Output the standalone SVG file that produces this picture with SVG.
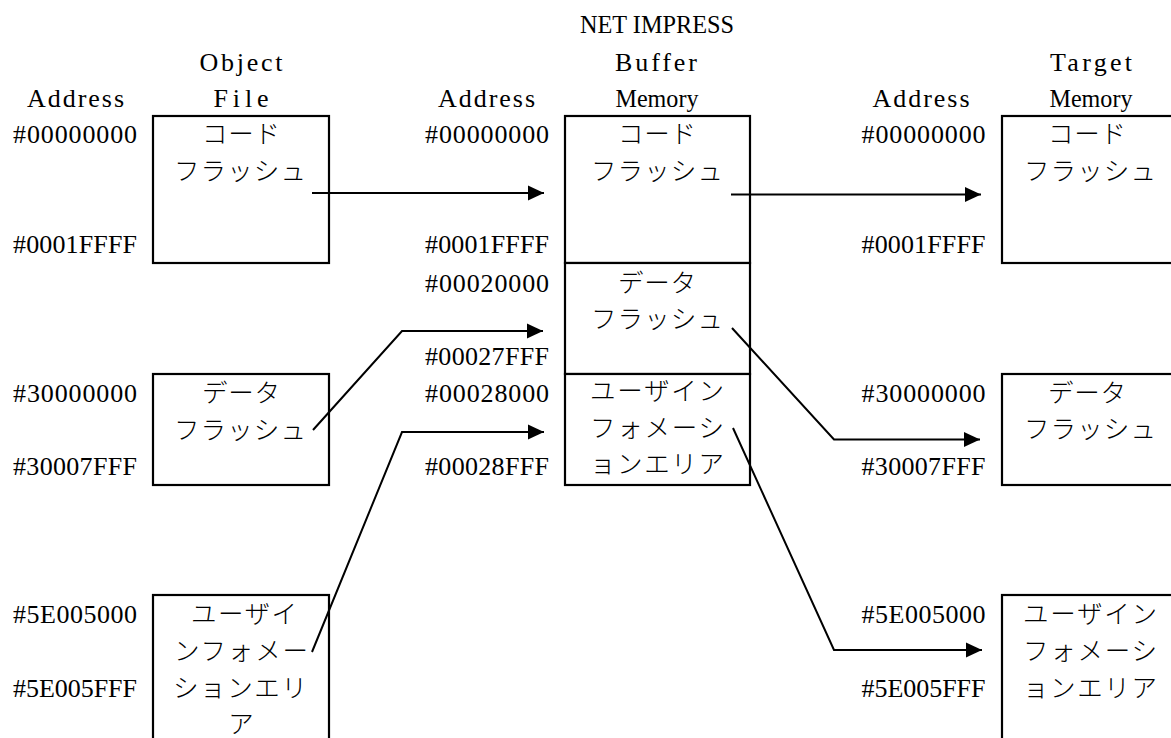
<svg xmlns="http://www.w3.org/2000/svg" width="1171" height="738" viewBox="0 0 1171 738">
  <style>
    .box { fill: #fff; stroke: #000; stroke-width: 2.2; }
    .lat { font-family: "Liberation Serif", "Times New Roman", serif; font-size: 26px; fill: #000; text-anchor: middle; }
    .jp { font-family: "Noto Sans CJK JP", "Noto Sans CJK SC", sans-serif; font-size: 25.5px; font-weight: 300; fill: #000; text-anchor: middle; }
    .wire { fill: none; stroke: #000; stroke-width: 2; stroke-linejoin: miter; }
  </style>
  <defs>
    <marker id="arrow" markerUnits="userSpaceOnUse" markerWidth="18" markerHeight="16" refX="17" refY="8" orient="auto">
      <path d="M1,0.5 L17,8 L1,15.5 Z" fill="#000"/>
    </marker>
  </defs>
  <rect width="1171" height="738" fill="#fff"/>

  <!-- column headings -->
  <g id="headings">
    <text class="lat" x="241" y="71" textLength="83" lengthAdjust="spacing">Object</text>
    <text class="lat" x="241" y="107" textLength="55" lengthAdjust="spacing">File</text>
    <text class="lat" x="75.5" y="107" textLength="97" lengthAdjust="spacing">Address</text>
    <text class="lat" x="657" y="33" textLength="154" lengthAdjust="spacingAndGlyphs">NET IMPRESS</text>
    <text class="lat" x="656" y="71" textLength="82" lengthAdjust="spacing">Buffer</text>
    <text class="lat" x="657" y="107" textLength="83" lengthAdjust="spacingAndGlyphs">Memory</text>
    <text class="lat" x="486.5" y="107" textLength="97" lengthAdjust="spacing">Address</text>
    <text class="lat" x="1091" y="71" textLength="82" lengthAdjust="spacing">Target</text>
    <text class="lat" x="1091" y="107" textLength="83" lengthAdjust="spacingAndGlyphs">Memory</text>
    <text class="lat" x="921" y="107" textLength="97" lengthAdjust="spacing">Address</text>
  </g>

  <!-- address labels -->
  <g id="addresses">
    <text class="lat" x="75" y="143" textLength="124" lengthAdjust="spacing">#00000000</text>
    <text class="lat" x="75" y="253" textLength="124" lengthAdjust="spacing">#0001FFFF</text>
    <text class="lat" x="75" y="402" textLength="124" lengthAdjust="spacing">#30000000</text>
    <text class="lat" x="75" y="475" textLength="124" lengthAdjust="spacing">#30007FFF</text>
    <text class="lat" x="75" y="623" textLength="124" lengthAdjust="spacing">#5E005000</text>
    <text class="lat" x="75" y="697" textLength="124" lengthAdjust="spacing">#5E005FFF</text>

    <text class="lat" x="487" y="143" textLength="124" lengthAdjust="spacing">#00000000</text>
    <text class="lat" x="487" y="253" textLength="124" lengthAdjust="spacing">#0001FFFF</text>
    <text class="lat" x="487" y="292" textLength="124" lengthAdjust="spacing">#00020000</text>
    <text class="lat" x="487" y="365" textLength="124" lengthAdjust="spacing">#00027FFF</text>
    <text class="lat" x="487" y="402" textLength="124" lengthAdjust="spacing">#00028000</text>
    <text class="lat" x="487" y="475" textLength="124" lengthAdjust="spacing">#00028FFF</text>

    <text class="lat" x="923.5" y="143" textLength="124" lengthAdjust="spacing">#00000000</text>
    <text class="lat" x="923.5" y="253" textLength="124" lengthAdjust="spacing">#0001FFFF</text>
    <text class="lat" x="923.5" y="402" textLength="124" lengthAdjust="spacing">#30000000</text>
    <text class="lat" x="923.5" y="475" textLength="124" lengthAdjust="spacing">#30007FFF</text>
    <text class="lat" x="923.5" y="623" textLength="124" lengthAdjust="spacing">#5E005000</text>
    <text class="lat" x="923.5" y="697" textLength="124" lengthAdjust="spacing">#5E005FFF</text>
  </g>

  <!-- object file blocks -->
  <g id="obj-code">
    <rect class="box" x="153" y="116" width="176" height="147"/>
    <text class="jp" x="241" y="143" textLength="78" lengthAdjust="spacing">コード</text>
    <text class="jp" x="240" y="180" textLength="132" lengthAdjust="spacing">フラッシュ</text>
  </g>
  <g id="obj-data">
    <rect class="box" x="153" y="374" width="176" height="111"/>
    <text class="jp" x="241" y="402" textLength="78" lengthAdjust="spacing">データ</text>
    <text class="jp" x="240" y="439" textLength="132" lengthAdjust="spacing">フラッシュ</text>
  </g>
  <g id="obj-user">
    <rect class="box" x="153" y="595" width="176" height="170"/>
    <text class="jp" x="244" y="623" textLength="106" lengthAdjust="spacing">ユーザイ</text>
    <text class="jp" x="241" y="660" textLength="134" lengthAdjust="spacing">ンフォメー</text>
    <text class="jp" x="240" y="697" textLength="134" lengthAdjust="spacing">ションエリ</text>
    <text class="jp" x="241" y="733">ア</text>
  </g>

  <!-- buffer memory blocks -->
  <g id="buf-code">
    <rect class="box" x="565" y="116" width="185" height="147"/>
    <text class="jp" x="657" y="143" textLength="78" lengthAdjust="spacing">コード</text>
    <text class="jp" x="657" y="180" textLength="132" lengthAdjust="spacing">フラッシュ</text>
  </g>
  <g id="buf-data">
    <rect class="box" x="565" y="263" width="185" height="111"/>
    <text class="jp" x="657" y="292" textLength="78" lengthAdjust="spacing">データ</text>
    <text class="jp" x="657" y="328" textLength="132" lengthAdjust="spacing">フラッシュ</text>
  </g>
  <g id="buf-user">
    <rect class="box" x="565" y="374" width="185" height="111"/>
    <text class="jp" x="657" y="400" textLength="134" lengthAdjust="spacing">ユーザイン</text>
    <text class="jp" x="657" y="437" textLength="134" lengthAdjust="spacing">フォメーシ</text>
    <text class="jp" x="657" y="473" textLength="134" lengthAdjust="spacing">ョンエリア</text>
  </g>

  <!-- target memory blocks -->
  <g id="tgt-code">
    <rect class="box" x="1002" y="116" width="180" height="147"/>
    <text class="jp" x="1087" y="143" textLength="78" lengthAdjust="spacing">コード</text>
    <text class="jp" x="1090" y="180" textLength="132" lengthAdjust="spacing">フラッシュ</text>
  </g>
  <g id="tgt-data">
    <rect class="box" x="1002" y="374" width="180" height="111"/>
    <text class="jp" x="1087" y="402" textLength="78" lengthAdjust="spacing">データ</text>
    <text class="jp" x="1090" y="438" textLength="132" lengthAdjust="spacing">フラッシュ</text>
  </g>
  <g id="tgt-user">
    <rect class="box" x="1002" y="595" width="180" height="170"/>
    <text class="jp" x="1090" y="623" textLength="134" lengthAdjust="spacing">ユーザイン</text>
    <text class="jp" x="1090" y="660" textLength="134" lengthAdjust="spacing">フォメーシ</text>
    <text class="jp" x="1090" y="697" textLength="134" lengthAdjust="spacing">ョンエリア</text>
  </g>

  <!-- transfer connectors -->
  <g id="connectors">
    <path class="wire" d="M312,193 H544" marker-end="url(#arrow)"/>
    <path class="wire" d="M731,194.5 H981" marker-end="url(#arrow)"/>
    <path class="wire" d="M313,430 L402,331 H543" marker-end="url(#arrow)"/>
    <path class="wire" d="M312,652 L402,432 H544" marker-end="url(#arrow)"/>
    <path class="wire" d="M732,328 L834,439.5 H980" marker-end="url(#arrow)"/>
    <path class="wire" d="M733,428 L834,650 H982" marker-end="url(#arrow)"/>
  </g>
</svg>
